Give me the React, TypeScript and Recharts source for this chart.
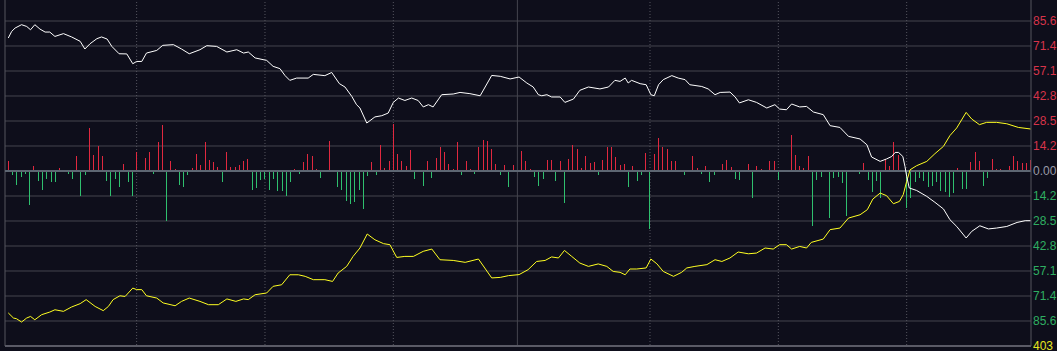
import { Bar, Cell, ComposedChart, CartesianGrid, Line, ReferenceLine, XAxis, YAxis } from "recharts";

// minute of session (0..239) -> value
const whiteMinutes = [
  0, 0.8, 1.6, 3.1, 4.3, 5.2, 6.2, 7.4, 8.6, 9.7, 10.9, 12.9, 14.8, 16.8, 17.9, 19.1, 20.7, 21.8, 23.1, 24.2,
  25.9, 27.7, 29.1, 30, 31.2, 32.3, 34.7, 36.1, 38.6, 40.5, 42.3, 44.8, 46.4, 48.7, 51.1, 53.4, 55, 56.1, 57.7, 60.4,
  61.9, 63.5, 64.7, 65.8, 67.4, 70.1, 71.3, 74, 75.6, 77.4, 78.7, 80.3, 81.4, 82.2, 83.8, 85.7, 87.3, 88.8, 90, 91.2,
  92.7, 94.3, 95.8, 97, 98.2, 99.3, 101.3, 104, 105.6, 107.9, 110.3, 113, 115, 117.3, 119.4, 121.2, 122.7, 123.9, 124.7, 125.9,
  127, 129, 130.1, 132.1, 133.6, 135.6, 138.3, 140.3, 141.8, 143, 144.2, 144.9, 145.7, 147.7, 149.1, 150.2, 151, 152, 153.1, 155.1,
  156.6, 158.2, 159.3, 162.1, 163.6, 165.2, 166.4, 168.7, 169.9, 170.9, 173, 174.9, 177.3, 179.2, 180.3, 181.9, 183.1, 185, 186.6, 188.2,
  190.5, 192.1, 194.4, 196.4, 199.1, 200.7, 201.8, 203.8, 205.3, 206.5, 207.3, 208.1, 209.1, 209.6, 210, 210.6, 212.3, 214.7, 216.6, 218.6,
  220.1, 221.7, 223.9, 225.2, 227.1, 229.1, 231, 233.4, 235.8, 237.7, 239,
];
const whiteValues = [
  76.0, 79.8, 81.7, 83.6, 82.6, 80.7, 83.6, 81.1, 79.4, 79.4, 76.9, 78.5, 76.6, 74.1, 69.7, 72.7, 75.6, 76.6, 75.4, 71.2,
  67.0, 66.9, 61.3, 62.6, 62.6, 67.4, 68.9, 71.8, 72.2, 69.7, 67.0, 69.3, 71.6, 71.2, 68.0, 69.3, 67.4, 68.0, 64.6, 63.2,
  59.8, 58.5, 54.5, 51.8, 53.1, 53.1, 55.2, 54.5, 56.3, 49.9, 48.0, 42.6, 37.9, 36.0, 27.4, 30.9, 31.6, 33.1, 39.2, 41.7,
  40.3, 41.7, 40.3, 36.6, 37.9, 36.6, 43.6, 44.0, 44.9, 44.2, 43.0, 54.6, 54.1, 52.6, 53.7, 50.3, 48.0, 43.6, 43.0, 43.6,
  42.3, 42.3, 39.2, 41.1, 46.1, 48.0, 46.9, 48.0, 51.8, 51.2, 53.1, 50.3, 51.8, 49.9, 49.3, 43.6, 43.0, 49.3, 52.2, 54.5,
  53.1, 52.2, 49.3, 48.3, 46.9, 43.6, 44.9, 45.1, 42.3, 38.9, 40.7, 39.2, 36.0, 37.9, 35.4, 35.0, 38.3, 36.6, 36.9, 33.7,
  32.2, 25.9, 24.9, 19.8, 18.3, 15.0, 8.0, 5.5, 6.9, 8.3, 10.6, 10.6, 8.3, 2.6, -3.1, -9.7, -11.1, -14.5, -17.9, -21.7,
  -27.8, -31.7, -38.3, -34.5, -31.3, -33.1, -32.6, -31.7, -29.4, -28.4, -28.4,
];

const yellowMinutes = [
  0, 1.2, 1.9, 3.1, 4.3, 5.2, 6.2, 7.8, 9.7, 10.9, 12.9, 14.8, 16.8, 18.2, 20.3, 22.2, 23.4, 24.5, 26.1, 27.3,
  29.1, 30, 31.2, 32.3, 34.7, 36.2, 39, 40.5, 42.3, 44.8, 46.8, 49.1, 51.1, 53.2, 55, 56.1, 57.7, 60.4, 61.9, 63.9,
  65.8, 67.8, 69.4, 71.3, 74, 75.8, 77.1, 79.1, 80.6, 82.2, 83.9, 85.7, 87.7, 89.2, 90.8, 92.7, 94.7, 97, 99, 100.9,
  104, 106.8, 109.9, 113, 115, 116.9, 119.4, 121.5, 123.5, 125.5, 127, 128.6, 130, 131.7, 133.6, 135.6, 137.9, 139.9, 141.4, 143,
  144.2, 145.3, 146.9, 149.1, 150.2, 151.6, 153.1, 155.5, 157.4, 158.6, 160.5, 163.3, 165.2, 166.8, 168.7, 170.6, 173, 174.9, 176.9, 178.8,
  180.3, 181.9, 183.1, 185, 186.6, 187.7, 190.5, 192.1, 194.4, 196.4, 199.1, 200.8, 202.1, 203.8, 205.3, 206.9, 208.3, 209.2, 210, 210.8,
  212.3, 214.7, 216.6, 218.6, 220.1, 221.7, 223.9, 225.2, 227, 228.7, 231, 233.4, 236.1, 239,
];
const yellowValues = [
  -81.1, -84.0, -84.4, -86.3, -84.0, -83.1, -85.0, -82.1, -80.6, -79.3, -80.2, -77.7, -75.8, -73.5, -77.4, -79.8, -77.4, -73.5, -71.3, -71.7,
  -66.9, -67.8, -67.8, -71.3, -72.6, -75.4, -77.0, -74.5, -72.6, -74.5, -76.4, -76.4, -73.1, -74.5, -73.1, -73.5, -70.7, -69.7, -65.9, -65.0,
  -59.3, -59.3, -60.2, -62.1, -62.1, -63.1, -58.3, -54.5, -48.8, -44.0, -36.0, -39.3, -41.5, -42.1, -49.4, -48.8, -48.8, -45.9, -44.6, -50.7,
  -51.1, -52.2, -50.3, -61.1, -60.8, -59.8, -59.2, -56.4, -51.7, -51.1, -49.1, -49.7, -45.4, -48.8, -52.6, -54.5, -53.1, -54.5, -57.4, -57.9,
  -59.3, -56.0, -56.0, -55.4, -50.3, -53.0, -57.4, -60.2, -57.9, -55.4, -54.5, -53.5, -50.7, -51.7, -49.7, -46.3, -47.3, -46.9, -44.0, -44.6,
  -42.1, -42.1, -44.6, -43.1, -44.0, -40.8, -38.9, -33.5, -32.6, -26.9, -25.0, -22.1, -16.0, -12.6, -14.1, -18.7, -17.4, -13.5, -5.9, 0.7,
  3.0, 5.5, 9.9, 14.1, 20.2, 24.6, 33.5, 29.7, 26.5, 27.8, 27.8, 27.0, 24.9, 24.0,
];

const flowMinutes = [
  0, 1, 2, 3, 4, 5, 6, 7, 8, 9, 10, 11, 12, 14, 15, 16, 17, 18, 19, 20,
  21, 22, 23, 24, 25, 26, 27, 28, 29, 30, 32, 33, 34, 35, 36, 37, 38, 39, 40, 41,
  42, 43, 44, 45, 46, 47, 48, 49, 50, 51, 52, 53, 54, 55, 56, 57, 58, 59, 60, 61,
  62, 63, 64, 65, 66, 67, 68, 69, 70, 71, 72, 73, 75, 77, 78, 79, 80, 81, 82, 83,
  84, 85, 86, 87, 88, 89, 90, 91, 92, 93, 94, 95, 97, 98, 99, 100, 101, 102, 103, 104,
  105, 106, 107, 108, 109, 110, 111, 112, 113, 114, 115, 116, 117, 118, 120, 121, 122, 123, 124, 125,
  126, 127, 128, 129, 130, 131, 132, 133, 134, 135, 136, 137, 138, 139, 140, 141, 142, 143, 144, 145,
  146, 147, 148, 149, 150, 151, 152, 153, 154, 155, 156, 158, 160, 161, 162, 163, 164, 165, 167, 168,
  169, 170, 171, 173, 174, 175, 176, 178, 179, 180, 183, 184, 185, 186, 187, 188, 189, 190, 192, 193,
  194, 195, 196, 199, 200, 201, 202, 203, 204, 205, 206, 207, 208, 210, 211, 212, 213, 214, 215, 216,
  217, 218, 219, 220, 221, 222, 223, 224, 225, 226, 227, 228, 229, 230, 231, 232, 234, 235, 236, 237,
  238, 239,
];
const flowValues = [
  5.5, -2.1, -8.2, -3.4, -1.7, -19.2, 3.0, -5.9, -10.7, -4.4, -6.5, -6.5, 1.7, -1.7, -4.4, 8.4, -14.1, -2.5, 24.6, 9.3,
  14.5, 8.4, -5.9, -14.1, -4.4, -9.3, 4.0, -6.5, -14.1, 10.9, 7.4, 10.9, -1.9, 16.4, 26.5, -28.8, 5.9, 1.1, -8.2, -9.1,
  -2.1, 1.7, 9.7, 3.2, 16.4, 6.5, 5.1, 2.1, -6.5, 10.7, 2.1, 2.1, 3.2, 5.5, 7.0, -11.0, -9.7, -5.0, -4.4, -11.0,
  -4.4, -11.6, -11.6, -14.5, -6.5, 1.3, -1.9, 5.0, 9.9, 8.8, 1.1, -4.0, 17.0, -9.1, -10.7, -17.3, -18.7, -17.9, -10.7, -21.5,
  -3.0, 5.0, -2.5, 15.0, 1.7, 5.5, 27.0, 9.9, 5.9, 3.0, 12.2, -4.4, -8.8, 5.5, -4.0, 7.4, 13.5, 10.7, 4.2, 1.1,
  16.4, -2.5, 5.5, 1.1, -1.5, 13.5, 17.9, 17.3, 12.8, 4.2, -2.5, 3.2, -9.1, 3.6, 11.2, 5.5, 1.1, -3.4, -8.8, -4.4,
  6.1, 6.5, -5.9, 5.5, -18.3, 7.0, 14.7, 12.8, 1.7, 8.4, 4.6, 5.1, -2.5, 6.1, 13.5, 13.5, 7.8, 3.2, 4.2, -9.3,
  2.7, -5.5, -2.5, 10.3, -33.1, 9.9, 18.9, 13.5, 12.6, 5.9, 5.5, -2.1, 8.4, 1.7, -1.5, 3.0, -6.3, -2.5, 4.0, 6.1,
  2.1, -4.4, -5.0, 4.2, -15.4, 3.0, 1.3, 5.9, 5.9, -5.0, 20.8, 9.0, 2.7, 1.7, 8.4, -31.2, -5.0, -3.4, -26.9, -4.0,
  -3.4, -6.9, -25.9, -1.5, 4.6, -5.0, -12.0, -5.9, -15.4, 6.9, 3.0, 16.4, 9.3, -21.1, -15.4, -6.5, -4.0, -5.9, -9.3, -8.8,
  -6.5, -11.6, -12.2, -15.0, -12.6, 1.7, -10.3, -10.3, 5.1, 10.9, 5.5, -8.8, -4.0, 7.0, 1.3, 1.1, 3.0, 8.4, 5.5, 4.6,
  4.6, 6.1,
];

const yTicks = [100, 85.71, 71.43, 57.14, 42.86, 28.57, 14.29, 0, -14.29, -28.57, -42.86, -57.14, -71.43, -85.71, -100];
const yTickLabels = ["99.9", "85.6", "71.4", "57.1", "42.8", "28.5", "14.2", "0.00", "14.2", "28.5", "42.8", "57.1", "71.4", "85.6", "403"];
const sessionMarks = [30, 60, 90, 150, 180, 210];
const middayMarks = [119];

const RED = "#e0283f";
const GREEN = "#2fbf6e";
const GRID = "#45454f";
const xDomain: [number, number] = [-0.77, 239.06];

const bars = flowMinutes.map((m, i) => ({ m, flow: flowValues[i] }));
const whiteRows = whiteMinutes.map((m, i) => ({ m, v: whiteValues[i] }));
const yellowRows = yellowMinutes.map((m, i) => ({ m, v: yellowValues[i] }));

function labelColor(i: number) {
  if (i === yTicks.length - 1) return "#e6e61e";
  if (yTicks[i] > 0) return "#d8344a";
  if (yTicks[i] === 0) return "#9a9aa8";
  return "#2fae62";
}

function AxisTick(props: any) {
  const { x, y, payload } = props;
  const i = yTicks.indexOf(payload.value);
  return (
    <text x={x} y={y} dy={4} textAnchor="start" fill={labelColor(i)} fontSize={12} fontFamily="'Liberation Sans', Arial, sans-serif">
      {yTickLabels[i]}
    </text>
  );
}

// 1px crisp stick, snapped to the pixel grid
function Stick(props: any) {
  const { x, y, width, height, fill } = props;
  const top = Math.round(Math.min(y, y + height));
  const bottom = Math.round(Math.max(y, y + height));
  return (
    <rect
      x={Math.floor(x + width / 2)}
      y={top}
      width={1}
      height={Math.max(1, bottom - top)}
      fill={fill}
      shapeRendering="crispEdges"
    />
  );
}

// vertical grid positions through the x axis scale (drawn under the sticks)
const minuteLines = (marks: number[]) => (args: any) => {
  const scale = args?.xAxis?.scale;
  if (typeof scale === "function") return marks.map((m) => scale(m));
  const { left, width } = args.offset;
  return marks.map((m) => left + ((m - xDomain[0]) / (xDomain[1] - xDomain[0])) * width);
};

export default function App() {
  return (
    <div style={{ position: "absolute", left: 0, top: -4, width: 1057, height: 355, background: "#0e0e1b" }}>
      <ComposedChart width={1057} height={355} data={bars} margin={{ top: 0, right: 0, bottom: 5, left: 5 }}>
        <CartesianGrid stroke={GRID} vertical={false} />
        <CartesianGrid
          stroke="#55555f"
          strokeDasharray="1 2"
          horizontal={false}
          verticalCoordinatesGenerator={minuteLines(sessionMarks)}
        />
        <CartesianGrid stroke={GRID} horizontal={false} verticalCoordinatesGenerator={minuteLines(middayMarks)} />
        <XAxis dataKey="m" type="number" domain={xDomain} allowDataOverflow hide />
        <YAxis
          orientation="right"
          width={26}
          domain={[-100, 100]}
          ticks={yTicks}
          interval={0}
          allowDataOverflow
          axisLine={{ stroke: "#55555f" }}
          tickLine={false}
          tickSize={0}
          tickMargin={2}
          tick={<AxisTick />}
        />
        <ReferenceLine x={xDomain[0]} stroke="#55555f" />
        <ReferenceLine y={-100} stroke="#5a5a66" strokeWidth={2} />
        <ReferenceLine y={0} stroke="#5d6672" strokeWidth={2} />
        <Bar dataKey="flow" barSize={1} shape={<Stick />} isAnimationActive={false}>
          {bars.map((b) => (
            <Cell key={b.m} fill={b.flow >= 0 ? RED : GREEN} />
          ))}
        </Bar>
        <Line data={yellowRows} dataKey="v" type="linear" stroke="#ffff22" strokeWidth={1} dot={false} isAnimationActive={false} />
        <Line data={whiteRows} dataKey="v" type="linear" stroke="#ffffff" strokeWidth={1} dot={false} isAnimationActive={false} />
      </ComposedChart>
    </div>
  );
}
